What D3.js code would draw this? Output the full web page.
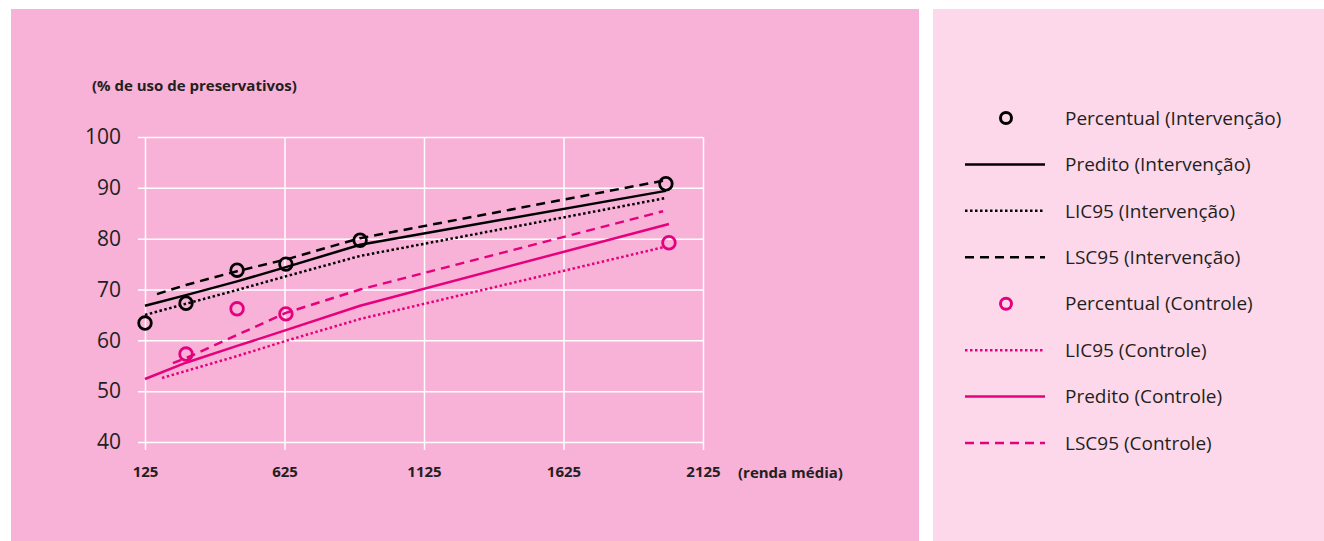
<!DOCTYPE html>
<html>
<head>
<meta charset="utf-8">
<script src="https://cdn.jsdelivr.net/npm/d3@7"></script>
<style>
  body { margin: 0; background: #fff; }
  svg { display: block; font-family: "Open Sans", "Noto Sans", sans-serif; }
</style>
</head>
<body>
<div id="chart"></div>
<script>
// observed percentages
var incomeInt = [125, 272, 455, 630, 896, 1992]
var pctInt = [63.4, 67.3, 73.8, 75.0, 79.7, 90.8]
var incomeCtl = [272, 455, 630, 2003]
var pctCtl = [57.3, 66.2, 65.2, 79.2]

// fitted lines (intervencao)
var predIntX = [125, 272, 455, 630, 896, 1992]
var predIntY = [66.8, 68.9, 71.6, 74.4, 78.8, 89.4]
var licIntX = [125, 272, 455, 630, 896, 1992]
var licIntY = [65.0, 67.2, 69.9, 72.6, 76.6, 88.0]
var lscIntX = [168, 272, 455, 630, 896, 1992]
var lscIntY = [69.1, 70.9, 73.6, 75.9, 80.1, 91.5]

// fitted lines (controle)
var predCtlX = [125, 272, 455, 630, 896, 2003]
var predCtlY = [52.4, 55.6, 58.9, 62.0, 66.8, 82.9]
var licCtlX = [186, 455, 630, 896, 1989]
var licCtlY = [52.6, 56.9, 59.9, 64.2, 78.4]
var lscCtlX = [225, 272, 630, 896, 1982]
var lscCtlY = [55.5, 56.5, 65.4, 70.0, 85.4]

var xTicks = [125, 625, 1125, 1625, 2125]
var yTicks = [40, 50, 60, 70, 80, 90, 100]

var legendLabels = [
    "Percentual (Intervenção)", "Predito (Intervenção)", "LIC95 (Intervenção)", "LSC95 (Intervenção)",
    "Percentual (Controle)", "LIC95 (Controle)", "Predito (Controle)", "LSC95 (Controle)"
]

var width = 1324, height = 541
var pink = "#e6007e", ink = "#231f20"
var DOT = "2.5,2.5", DASH = "9,6"

var svg = d3.select("#chart").append("svg")
    .attr("width", width)
    .attr("height", height)

svg.append("rect").attr("x", 11).attr("y", 9).attr("width", 908).attr("height", 532).attr("fill", "#f8b1d7")
svg.append("rect").attr("x", 933).attr("y", 9).attr("width", 391).attr("height", 532).attr("fill", "#fdd8eb")

var xScale = d3.scaleLinear().domain([125, 2125]).range([145, 703])
var yScale = d3.scaleLinear().domain([40, 100]).range([442, 137])

// y grid + labels
var yAxis = d3.axisLeft(yScale).tickValues(yTicks).tickSize(-(703 - 138)).tickPadding(17)
svg.append("g")
    .attr("transform", "translate(138,0)")
    .call(yAxis)
    .attr("font-family", null).attr("font-size", null)
    .call(function(g) {
        g.select(".domain").remove()
        g.selectAll("line").attr("stroke", "#fff").attr("stroke-width", 1.5)
        g.selectAll("text").attr("fill", ink).style("font-size", "21px")
    })

// x grid + labels
var xAxis = d3.axisBottom(xScale).tickValues(xTicks).tickSize(-(450 - 137)).tickPadding(16).tickFormat(d3.format("d"))
svg.append("g")
    .attr("transform", "translate(0,450)")
    .call(xAxis)
    .attr("font-family", null).attr("font-size", null)
    .call(function(g) {
        g.select(".domain").remove()
        g.selectAll("line").attr("stroke", "#fff").attr("stroke-width", 1.5)
        g.selectAll("text").attr("fill", ink).style("font-size", "15px").style("font-weight", "bold")
    })

svg.append("text")
    .attr("x", 92).attr("y", 91)
    .attr("fill", ink)
    .style("font-size", "15px").style("font-weight", "bold")
    .text("(% de uso de preservativos)")

svg.append("text")
    .attr("x", 738).attr("y", 478)
    .attr("fill", ink)
    .style("font-size", "15px").style("font-weight", "bold")
    .text("(renda média)")

var line = d3.line()
    .x(function(d) { return xScale(d[0]) })
    .y(function(d) { return yScale(d[1]) })

function drawLine(xs, ys, color, dash) {
    svg.append("path")
        .datum(d3.zip(xs, ys))
        .attr("d", line)
        .attr("fill", "none")
        .attr("stroke", color)
        .attr("stroke-width", 2.5)
        .attr("stroke-dasharray", dash)
}

drawLine(lscCtlX, lscCtlY, pink, DASH)
drawLine(licCtlX, licCtlY, pink, DOT)
drawLine(predCtlX, predCtlY, pink, null)
drawLine(lscIntX, lscIntY, "#000", DASH)
drawLine(licIntX, licIntY, "#000", DOT)
drawLine(predIntX, predIntY, "#000", null)

function drawPoints(xs, ys, color) {
    svg.append("g").selectAll("circle")
        .data(d3.zip(xs, ys))
        .join("circle")
        .attr("cx", function(d) { return xScale(d[0]) })
        .attr("cy", function(d) { return yScale(d[1]) })
        .attr("r", 6.3)
        .attr("fill", "none")
        .attr("stroke", color)
        .attr("stroke-width", 2.8)
}

drawPoints(incomeCtl, pctCtl, pink)
drawPoints(incomeInt, pctInt, "#000")

// legend
var legendStyle = [
    {type: "circle", color: "#000"}, {type: "line", color: "#000", dash: null},
    {type: "line", color: "#000", dash: DOT}, {type: "line", color: "#000", dash: DASH},
    {type: "circle", color: pink}, {type: "line", color: pink, dash: DOT},
    {type: "line", color: pink, dash: null}, {type: "line", color: pink, dash: DASH}
]
var legendY = d3.scaleLinear().domain([0, 7]).range([118, 443])

var item = svg.append("g").selectAll("g")
    .data(legendLabels)
    .join("g")
    .attr("transform", function(d, i) { return "translate(0," + legendY(i) + ")" })

item.each(function(d, i) {
    var g = d3.select(this), s = legendStyle[i]
    if (s.type == "circle") {
        g.append("circle").attr("cx", 1006).attr("cy", 0).attr("r", 5.5)
            .attr("fill", "none").attr("stroke", s.color).attr("stroke-width", 3)
    } else {
        g.append("line").attr("x1", 965).attr("x2", 1045).attr("y1", 0).attr("y2", 0)
            .attr("stroke", s.color).attr("stroke-width", 2.5).attr("stroke-dasharray", s.dash)
    }
    g.append("text").attr("x", 1065).attr("y", 0).attr("dy", "0.35em")
        .attr("fill", ink).style("font-size", "19px")
        .text(d)
})
</script>
</body>
</html>
